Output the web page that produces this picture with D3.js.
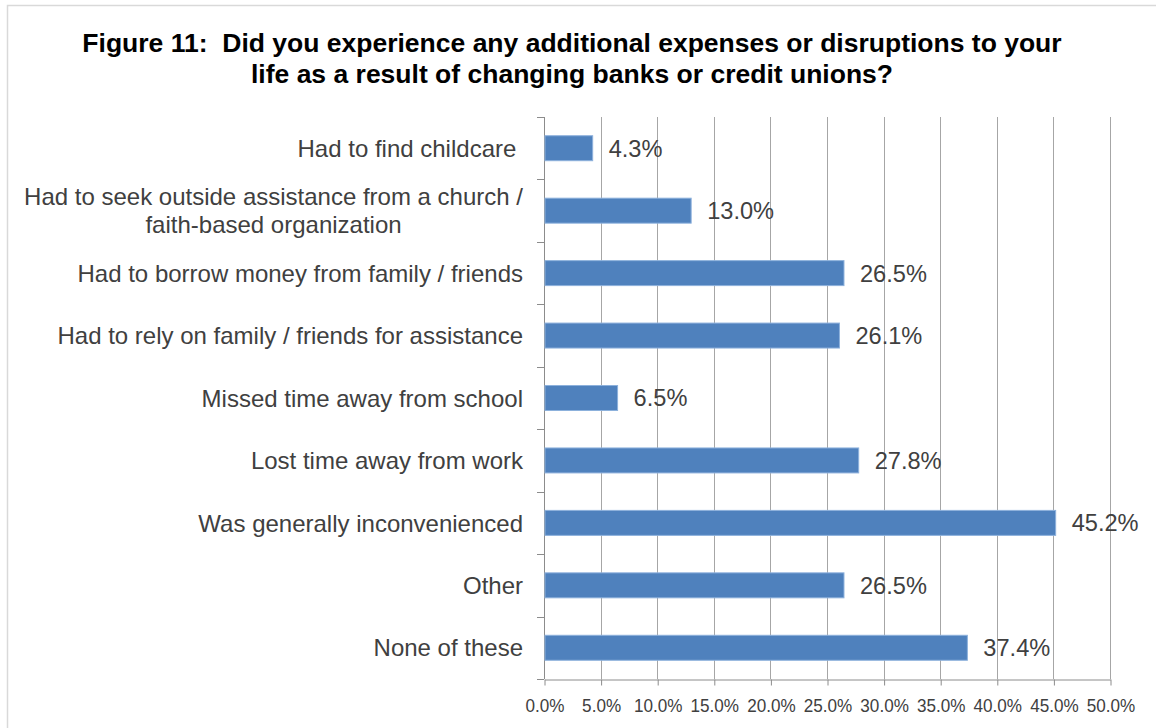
<!DOCTYPE html>
<html>
<head>
<meta charset="utf-8">
<script src="https://cdn.jsdelivr.net/npm/d3@7"></script>
<style>
  html, body { margin: 0; padding: 0; background: #fff; }
  svg { display: block; }
  text { white-space: pre; }
</style>
</head>
<body>
<svg id="chart" width="1156" height="728"></svg>
<script>
// Survey responses, top to bottom
const categories = [
  ["Had to find childcare "],
  ["Had to seek outside assistance from a church /", "faith-based organization"],
  ["Had to borrow money from family / friends"],
  ["Had to rely on family / friends for assistance"],
  ["Missed time away from school"],
  ["Lost time away from work"],
  ["Was generally inconvenienced"],
  ["Other"],
  ["None of these"]
];
const values = [4.3, 13.0, 26.5, 26.1, 6.5, 27.8, 45.2, 26.5, 37.4];
const xTicks = [0, 5, 10, 15, 20, 25, 30, 35, 40, 45, 50];
const titleLines = [
  "Figure 11:  Did you experience any additional expenses or disruptions to your",
  "life as a result of changing banks or credit unions?"
];

const svg = d3.select("#chart");
const W = 1156, H = 728;
const margin = { left: 544, right: W - 1110, top: 117, bottom: H - 679 };
const textColor = "#404040";
const axisColor = "#8c8c8c";
const font = "Liberation Sans, Arial, sans-serif";

// Outer frame
svg.append("rect")
  .attr("x", 7.5).attr("y", 5.5)
  .attr("width", W).attr("height", H)
  .attr("fill", "none").attr("stroke", "#d9d9d9").attr("stroke-width", 1.5);

// Title
svg.append("g").selectAll("text").data(titleLines).join("text")
  .attr("x", 572).attr("y", (d, i) => 52 + i * 31)
  .attr("text-anchor", "middle")
  .attr("font-family", font)
  .attr("font-weight", "bold").attr("font-size", 26.5)
  .attr("fill", "#000")
  .text(d => d);

const x = d3.scaleLinear().domain([0, 50]).range([margin.left, W - margin.right]);
const y = d3.scaleBand().domain(d3.range(categories.length))
  .range([margin.top, H - margin.bottom]).paddingInner(0.6).paddingOuter(0.3);

// Vertical gridlines
svg.append("g").selectAll("line").data(xTicks.slice(1)).join("line")
  .attr("x1", d => Math.round(x(d)) + 0.5).attr("x2", d => Math.round(x(d)) + 0.5)
  .attr("y1", margin.top).attr("y2", H - margin.bottom)
  .attr("stroke", "#a6a6a6").attr("stroke-width", 1);

// Bottom axis
const xAxis = d3.axisBottom(x).tickValues(xTicks)
  .tickFormat(d => d.toFixed(1) + "%").tickSize(6).tickSizeOuter(0);
const gx = svg.append("g")
  .attr("transform", `translate(0.5,${H - margin.bottom + 0.5})`)
  .call(xAxis);
gx.select(".domain").attr("stroke", axisColor);
gx.selectAll(".tick line").attr("stroke", axisColor);
gx.selectAll(".tick text")
  .attr("y", 19)
  .attr("font-family", font)
  .attr("font-size", 19).attr("fill", textColor)
  .each(function () {
    // narrow face: squeeze glyphs horizontally
    const w = this.getComputedTextLength();
    d3.select(this).attr("textLength", w * 0.9).attr("lengthAdjust", "spacingAndGlyphs");
  });

// Left axis with ticks at category boundaries
const bounds = d3.range(categories.length + 1).map(i => margin.top + i * y.step());
const gy = svg.append("g");
gy.append("line")
  .attr("x1", margin.left + 0.5).attr("x2", margin.left + 0.5)
  .attr("y1", margin.top).attr("y2", H - margin.bottom)
  .attr("stroke", axisColor);
gy.selectAll("line.tick").data(bounds).join("line").attr("class", "tick")
  .attr("x1", margin.left - 7).attr("x2", margin.left)
  .attr("y1", d => Math.round(d) + 0.5).attr("y2", d => Math.round(d) + 0.5)
  .attr("stroke", axisColor);

// Bars
svg.append("g").selectAll("rect").data(values).join("rect")
  .attr("x", x(0) + 1)
  .attr("y", (d, i) => y(i))
  .attr("width", d => x(d) - x(0) - 1)
  .attr("height", y.bandwidth())
  .attr("fill", "#4f81bd")
  .attr("stroke", "#8db1dc").attr("stroke-width", 1);

// Value labels
svg.append("g").selectAll("text").data(values).join("text")
  .attr("x", d => x(d) + 16)
  .attr("y", (d, i) => y(i) + y.bandwidth() / 2)
  .attr("dy", "0.36em")
  .attr("font-family", font)
  .attr("font-size", 23.6).attr("fill", textColor)
  .text(d => d.toFixed(1) + "%");

// Category labels (multi-line labels are centred on each other, block right-aligned)
const labelRight = 523;
const lineH = 28;
categories.forEach((lines, i) => {
  const cy = y(i) + y.bandwidth() / 2;
  const g = svg.append("g");
  const t = g.selectAll("text").data(lines).join("text")
    .attr("y", (d, j) => cy + (j - (lines.length - 1) / 2) * lineH)
    .attr("dy", "0.36em")
    .attr("font-family", font)
    .attr("font-size", 24).attr("fill", textColor)
    .text(d => d);
  if (lines.length === 1) {
    t.attr("x", labelRight).attr("text-anchor", "end");
  } else {
    const maxW = d3.max(t.nodes(), n => n.getComputedTextLength());
    t.attr("x", labelRight - maxW / 2).attr("text-anchor", "middle");
  }
});
</script>
</body>
</html>
